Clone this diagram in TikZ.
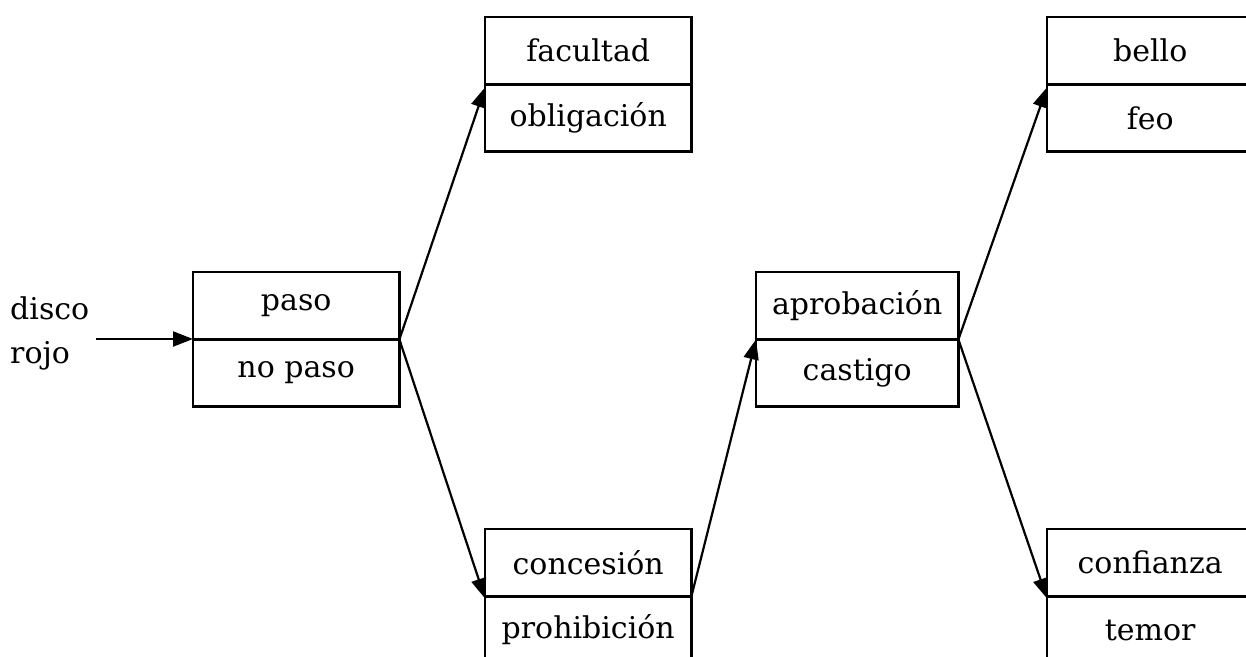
\documentclass[tikz,border=0pt]{standalone}
\usepackage{fontspec}
\setmainfont{DejaVu Serif}
\usetikzlibrary{arrows.meta}
\begin{document}
\begin{tikzpicture}[x=1pt,y=-1pt,
  cell/.style={minimum width=206pt,minimum height=67pt,inner sep=0pt,
    font=\fontsize{30}{36}\selectfont,anchor=north west},
  frame/.style={line width=2.8pt},
  conn/.style={line width=2.2pt,-{Triangle[length=20pt,width=15pt]}}]
\useasboundingbox (0,0) rectangle (1246,656);
\clip (0,0) rectangle (1246,656);
% box 1
\node[cell] (b1t) at (193,272) {paso};
\node[cell,anchor=north] (b1b) at (b1t.south) {no paso};
% box 2
\node[cell] (b2t) at (485,17) {facultad};
\node[cell,anchor=north] (b2b) at (b2t.south) {obligación};
% box 3
\node[cell] (b3t) at (485,529) {concesión};
\node[cell,anchor=north] (b3b) at (b3t.south) {prohibición};
% box 4
\node[cell,minimum width=202pt] (b4t) at (756,272) {aprobación};
\node[cell,minimum width=202pt,anchor=north] (b4b) at (b4t.south) {castigo};
% box 5
\node[cell] (b5t) at (1047,17) {bello};
\node[cell,anchor=north] (b5b) at (b5t.south) {feo};
% box 6
\node[cell] (b6t) at (1047,529) {confianza};
\node[cell,anchor=north] (b6b) at (b6t.south) {temor};
\foreach \b in {b1,b2,b3,b4,b5,b6}{
  \draw[frame] (\b t.north west) rectangle (\b b.south east);
  \draw[frame] (\b t.south west) -- (\b t.south east);
}
% input label
\node[align=left,anchor=west,inner sep=0pt,font=\fontsize{30}{44}\selectfont] (disco) at (10,333) {disco\\rojo};
\coordinate (in) at (96,339);
% connectors
\draw[conn] (in) -- (b1t.south west |- in);
\draw[conn] (b1t.south east) -- ([yshift=-3pt]b2t.south west);
\draw[conn] (b1t.south east) -- ([yshift=-2pt]b3t.south west);
\draw[conn] (b3t.south east) -- (b4t.south west);
\draw[conn] (b4t.south east) -- ([yshift=-3pt]b5t.south west);
\draw[conn] (b4t.south east) -- ([yshift=-2pt]b6t.south west);
\end{tikzpicture}
\end{document}
